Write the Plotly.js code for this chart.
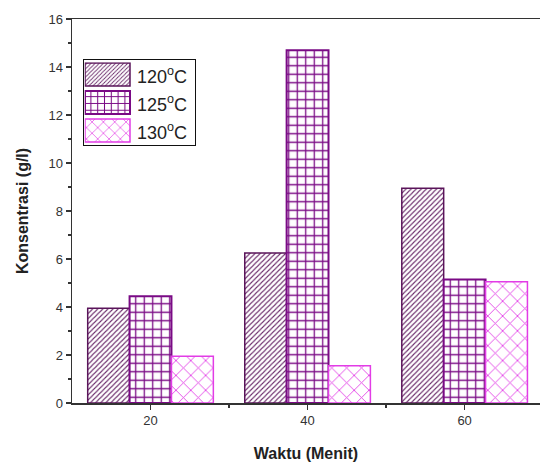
<!DOCTYPE html>
<html><head><meta charset="utf-8">
<script src="https://cdn.plot.ly/plotly-3.0.1.min.js"></script>
<style>html,body{margin:0;padding:0;background:#fff}#chart{width:540px;height:463px}</style>
</head><body><div id="chart"></div>
<script>
const times = [20, 40, 60];
const tickLabels = ['20', '40', '60'];
const seriesNames = ['120<sup>o</sup>C', '125<sup>o</sup>C', '130<sup>o</sup>C'];
const s120 = [3.95, 6.25, 8.95];
const s125 = [4.45, 14.7, 5.15];
const s130 = [1.95, 1.55, 5.05];

const styles = [
  {line: '#5a145a', fg: '#6a2a6a', shape: '/', size: 3.6, sol: 0.3, lw: 1.5},
  {line: '#7a0a85', fg: '#7a0a85', shape: '+', size: 8.5, sol: 0.28, lw: 2},
  {line: '#e23ce6', fg: '#e23ce6', shape: 'x', size: 10.5, sol: 0.16, lw: 1.5}
];
const data = [s120, s125, s130].map((v, i) => ({
  type: 'bar', x: times, y: v, name: seriesNames[i],
  marker: {color: 'white', line: {color: styles[i].line, width: styles[i].lw},
    pattern: {shape: styles[i].shape, fgcolor: styles[i].fg, bgcolor: 'white',
      size: styles[i].size, solidity: styles[i].sol, fillmode: 'replace'}}
}));

const layout = {
  width: 540, height: 463,
  margin: {l: 72, r: 0, t: 19, b: 60},
  paper_bgcolor: 'white', plot_bgcolor: 'white',
  barmode: 'group', bargap: 0.2, bargroupgap: 0,
  font: {family: 'Liberation Sans, Arial, sans-serif', color: '#333'},
  xaxis: {range: [10, 69.6], tickvals: times, ticktext: tickLabels,
    showline: true, linecolor: '#333', linewidth: 1.5, mirror: true,
    ticks: 'outside', ticklen: 5, tickwidth: 1.2, tickcolor: '#333',
    minor: {tickvals: [30, 50], ticks: 'outside', ticklen: 3, tickcolor: '#333'},
    showgrid: false, zeroline: false, tickfont: {size: 13, color: '#333'},
    title: {text: '<b>Waktu (Menit)</b>', font: {size: 16, color: '#222'}, standoff: 20}},
  yaxis: {range: [0, 16], dtick: 2, showline: true, linecolor: '#333', linewidth: 1.5,
    ticks: 'outside', ticklen: 5, tickwidth: 1.2, tickcolor: '#333',
    minor: {dtick: 1, ticks: 'outside', ticklen: 3, tickcolor: '#333'},
    showgrid: false, zeroline: false, tickfont: {size: 13, color: '#333'},
    title: {text: '<b>Konsentrasi (g/l)</b>', font: {size: 16, color: '#222'}, standoff: 16}},
  showlegend: true,
  legend: {x: 0.025, y: 0.89, xanchor: 'left', yanchor: 'top',
    bgcolor: 'white', bordercolor: '#111', borderwidth: 1,
    font: {size: 18, color: '#222'}, tracegroupgap: 0, itemwidth: 50}
};
const gd = document.getElementById('chart');
Plotly.newPlot(gd, data, layout, {displayModeBar: false, staticPlot: true}).then(() => {
  // enlarge legend box and swatches to match the reference legend
  const bg = gd.querySelector('.legend rect.bg');
  if (bg) {
    const br = bg.getBoundingClientRect();
    const x0 = parseFloat(bg.getAttribute('x') || 0), y0 = parseFloat(bg.getAttribute('y') || 0);
    bg.setAttribute('x', x0 + (83 - br.left));
    bg.setAttribute('y', y0 + (59 - br.top));
    bg.setAttribute('width', 112);
    bg.setAttribute('height', 86);
  }
  const traces = gd.querySelectorAll('.legend .traces');
  traces.forEach((t, i) => {
    const top = 63 + i * 28, h = 23;
    t.querySelectorAll('.legendpoints path').forEach(p => {
      const pr = p.getBoundingClientRect(), bb = p.getBBox();
      const offX = pr.left - bb.x, offY = pr.top - bb.y;
      const x = 85 - offX, y = top - offY;
      p.setAttribute('d', `M${x},${y}h45v${h}h-45Z`);
    });
    const txt = t.querySelector('.legendtext');
    if (txt) {
      const tr = txt.getBoundingClientRect();
      const dx = 137 - tr.left, dy = (top + h / 2 + 1) - (tr.top + tr.height / 2);
      txt.setAttribute('transform', `translate(${dx},${dy})`);
    }
  });
});
</script></body></html>
